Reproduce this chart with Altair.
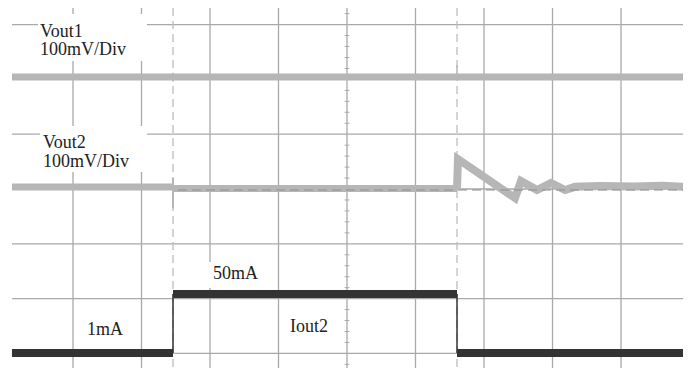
import altair as alt
import pandas as pd

# ---- data (time in divisions, amplitude in divisions) ----
grid_t = [1, 2, 3, 4, 5, 6, 7, 8, 9]
grid_v = [-3, -2, -1, 0, 1, 2, 3]
trigger_t = [2.46, 6.606]

# Vout1 (flat, light grey)
vout1_level = 2.044
vout1_start, vout1_end = 0.109, 9.905
vout1_spike_t = [2.46, 6.606]
vout1_spike_lo = [1.96, 2.044]
vout1_spike_hi = [2.12, 2.26]

# Vout2 baseline pieces and transient
vout2_seg_t0 = [0.109, 2.47]
vout2_seg_t1 = [2.45, 6.606]
vout2_seg_v = [0.036, 0.009]
vout2_spike_t = 2.46
vout2_spike_lo, vout2_spike_hi = -0.35, 0.2
vout2_tr_t = [6.606, 6.62, 7.453, 7.54, 7.774, 7.978, 8.182, 8.328, 8.693, 9.2, 9.6, 9.905]
vout2_tr_v = [0.009, 0.547, -0.164, 0.146, -0.018, 0.109, -0.018, 0.04, 0.055, 0.045, 0.06, 0.04]

# Iout2 (dark)
iout_t0 = [0.109, 2.46, 6.606]
iout_t1 = [2.46, 6.606, 9.905]
iout_v = [-2.993, -1.916, -2.993]

# labels
lab_text = ["Vout1", "100mV/Div", "Vout2", "100mV/Div", "50mA", "1mA", "Iout2"]
lab_t = [0.518, 0.518, 0.562, 0.562, 3.044, 1.204, 4.168]
lab_v = [2.774, 2.445, 0.748, 0.401, -1.642, -2.664, -2.609]

# white label backgrounds
box_t0 = [0.489, 0.518, 2.927]
box_t1 = [2.08, 2.08, 3.876]
box_v0 = [2.336, 0.31, -1.807]
box_v1 = [3.193, 1.15, -1.332]

W, H = 675, 360
XD = [0.0511, 9.905]
YD = [-3.266, 3.303]
GRID = "#a9a9a9"
LIGHT = "#b6b6b6"
DARK = "#333333"


def X(f="t", **kw):
    return alt.X(f"{f}:Q", scale=alt.Scale(domain=XD, nice=False, zero=False), axis=None, **kw)


def Y(f="v", **kw):
    return alt.Y(f"{f}:Q", scale=alt.Scale(domain=YD, nice=False, zero=False), axis=None, **kw)


vgrid = alt.Chart(pd.DataFrame({"t": grid_t})).mark_rule(color=GRID, strokeWidth=1.3).encode(
    x=X(), y=alt.value(0), y2=alt.value(H))

hgrid = alt.Chart(pd.DataFrame({"v": grid_v, "t0": 0.109, "t1": 9.905})).mark_rule(
    color=GRID, strokeWidth=1.3).encode(x=X("t0"), x2="t1:Q", y=Y())

ticks_v = [k / 5 for k in range(-17, 17) if k % 5 != 0]
ticks = alt.Chart(pd.DataFrame({"v": ticks_v, "t0": 4.965, "t1": 5.035})).mark_rule(
    color=GRID, strokeWidth=1).encode(x=X("t0"), x2="t1:Q", y=Y())

trig = alt.Chart(pd.DataFrame({"t": trigger_t})).mark_rule(
    color="#bdbdbd", strokeWidth=1.3, strokeDash=[8, 5]).encode(
    x=X(), y=alt.value(0), y2=alt.value(H))

boxes = alt.Chart(pd.DataFrame({"t0": box_t0, "t1": box_t1, "v0": box_v0, "v1": box_v1})).mark_rect(
    color="white").encode(x=X("t0"), x2="t1:Q", y=Y("v0"), y2="v1:Q")

v1 = alt.Chart(pd.DataFrame({"t0": [vout1_start], "t1": [vout1_end], "v": [vout1_level]})).mark_rule(
    color=LIGHT, strokeWidth=7, strokeCap="butt").encode(x=X("t0"), x2="t1:Q", y=Y())
v1s = alt.Chart(pd.DataFrame({"t": vout1_spike_t, "lo": vout1_spike_lo, "hi": vout1_spike_hi})).mark_rule(
    color=LIGHT, strokeWidth=1.5).encode(x=X(), y=Y("lo"), y2="hi:Q")

v2 = alt.Chart(pd.DataFrame({"t0": vout2_seg_t0, "t1": vout2_seg_t1, "v": vout2_seg_v})).mark_rule(
    color=LIGHT, strokeWidth=7, strokeCap="butt").encode(x=X("t0"), x2="t1:Q", y=Y())
v2s = alt.Chart(pd.DataFrame({"t": [vout2_spike_t], "lo": [vout2_spike_lo], "hi": [vout2_spike_hi]})).mark_rule(
    color=LIGHT, strokeWidth=2).encode(x=X(), y=Y("lo"), y2="hi:Q")
v2t = alt.Chart(pd.DataFrame({"t": vout2_tr_t, "v": vout2_tr_v, "o": list(range(len(vout2_tr_t)))})).mark_line(
    color=LIGHT, strokeWidth=8, strokeJoin="miter", strokeCap="butt").encode(x=X(), y=Y(), order="o:Q")

centre = alt.Chart(pd.DataFrame({"t0": [2.533], "t1": [9.905], "v": [-0.018]})).mark_rule(
    color="#8f8f8f", strokeWidth=1, strokeDash=[9, 5]).encode(x=X("t0"), x2="t1:Q", y=Y())

io = alt.Chart(pd.DataFrame({"t0": iout_t0, "t1": iout_t1, "v": iout_v})).mark_rule(
    color=DARK, strokeWidth=8, strokeCap="butt").encode(x=X("t0"), x2="t1:Q", y=Y())
io_edges = alt.Chart(pd.DataFrame({"t": trigger_t, "lo": [-2.993, -2.993], "hi": [-1.916, -1.916]})).mark_rule(
    color=DARK, strokeWidth=1.5).encode(x=X(), y=Y("lo"), y2="hi:Q")

labels = alt.Chart(pd.DataFrame({"t": lab_t, "v": lab_v, "s": lab_text})).mark_text(
    align="left", baseline="alphabetic", font="Liberation Serif", fontSize=18, color="#222222").encode(
    x=X(), y=Y(), text="s:N")

chart = alt.layer(vgrid, hgrid, ticks, trig, boxes, v1, v1s, v2, v2s, v2t, centre, io, io_edges, labels).properties(
    width=W, height=H, padding=0, autosize=alt.AutoSizeParams(type="none"), background="white"
).configure_view(stroke=None)

chart.save("out.html", embed_options={"renderer": "svg", "actions": False})
